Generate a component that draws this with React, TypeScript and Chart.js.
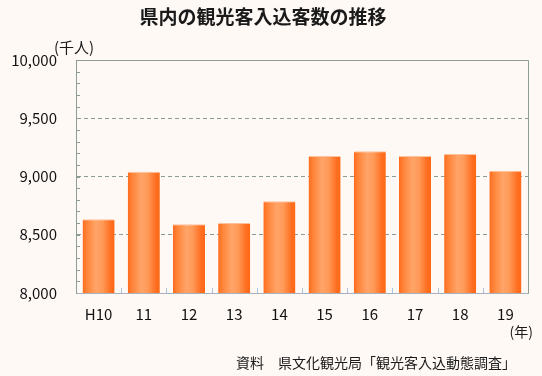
import React, { useEffect, useRef } from "react";
import { Chart, registerables } from "chart.js";

Chart.register(...registerables);

const title = "県内の観光客入込客数の推移";
const categories = ["H10", "11", "12", "13", "14", "15", "16", "17", "18", "19"];
const visitors = [8632, 9040, 8590, 8600, 8787, 9176, 9216, 9176, 9193, 9050];
const yMin = 8000;
const yMax = 10000;
const yStep = 500;
const yMinorStep = 100;
const unitLabel = "(千人)";
const yearLabel = "(年)";
const sourceLabel = "資料　県文化観光局「観光客入込動態調査」";

const FONT = "'Noto Sans CJK JP', 'Noto Sans', sans-serif";

export default function App() {
  const ref = useRef<HTMLCanvasElement | null>(null);

  useEffect(() => {
    const canvas = ref.current;
    if (!canvas) return;

    const barGradient = (ctx: any) => {
      const chart = ctx.chart;
      const xs = chart.scales?.x;
      if (!xs || xs.width === undefined || !isFinite(xs.left)) return "#ff8a40";
      const cw = xs.width / categories.length;
      const c = xs.getPixelForValue(ctx.dataIndex);
      const half = (cw * 0.71) / 2;
      const g = chart.ctx.createLinearGradient(c - half, 0, c + half, 0);
      g.addColorStop(0, "#ff6a1c");
      g.addColorStop(0.12, "#ff8236");
      g.addColorStop(0.42, "#ffa468");
      g.addColorStop(0.62, "#ff9a58");
      g.addColorStop(0.88, "#ff6e20");
      g.addColorStop(1, "#ff6814");
      return g;
    };

    const decor = {
      id: "decor",
      beforeDatasetsDraw(chart: any) {
        const { ctx, chartArea } = chart;
        const ys = chart.scales.y;
        const xs = chart.scales.x;
        ctx.save();
        ctx.lineWidth = 1;
        ctx.strokeStyle = "#8d9c96";
        ctx.beginPath();
        ctx.moveTo(chartArea.left, chartArea.top + 0.5);
        ctx.lineTo(chartArea.right + 0.5, chartArea.top + 0.5);
        ctx.lineTo(chartArea.right + 0.5, chartArea.bottom);
        ctx.stroke();
        ctx.beginPath();
        for (let v = yMin + yMinorStep; v < yMax; v += yMinorStep) {
          const y = Math.round(ys.getPixelForValue(v)) + 0.5;
          ctx.moveTo(chartArea.left, y);
          ctx.lineTo(chartArea.left + 4, y);
        }
        ctx.stroke();
        ctx.strokeStyle = "#a8c4e0";
        ctx.beginPath();
        for (let i = 1; i < categories.length; i++) {
          const x = Math.round((xs.getPixelForValue(i - 1) + xs.getPixelForValue(i)) / 2) + 0.5;
          ctx.moveTo(x, chartArea.bottom);
          ctx.lineTo(x, chartArea.bottom - 5);
        }
        ctx.stroke();
        ctx.restore();
      },
      afterDraw(chart: any) {
        const { ctx } = chart;
        ctx.save();
        ctx.fillStyle = "#1a1a1a";
        ctx.textBaseline = "middle";
        ctx.font = `bold 19px ${FONT}`;
        ctx.textAlign = "center";
        ctx.fillText(title, 263, 17);
        ctx.font = `15px ${FONT}`;
        ctx.textAlign = "left";
        ctx.fillText(unitLabel, 54, 47);
        ctx.font = `14px ${FONT}`;
        ctx.textAlign = "right";
        ctx.fillText(yearLabel, 533, 332);
        ctx.fillText(sourceLabel, 516, 363);
        ctx.restore();
      },
    };

    const chart = new Chart(canvas, {
      type: "bar",
      data: {
        labels: categories,
        datasets: [
          {
            data: visitors,
            backgroundColor: barGradient as any,
            borderColor: "#ffc29a",
            borderWidth: { top: 1, left: 0, right: 0, bottom: 0 } as any,
            borderSkipped: "bottom",
            categoryPercentage: 1,
            barPercentage: 0.71,
          },
        ],
      },
      plugins: [
        decor,
        {
          id: "bg",
          beforeDraw(c: any) {
            const ctx = c.ctx;
            ctx.save();
            ctx.fillStyle = "#fff9f6";
            ctx.fillRect(0, 0, c.width, c.height);
            ctx.restore();
          },
        },
      ],
      options: {
        animation: false,
        responsive: false,
        devicePixelRatio: 1,
        layout: { padding: { left: 0, right: 14, top: 60, bottom: 53 } },
        plugins: {
          legend: { display: false },
          title: { display: false },
          tooltip: { enabled: false },
        },
        scales: {
          x: {
            afterFit: (s: any) => {
              s.height = 30;
            },
            grid: { display: false, drawTicks: false },
            border: { display: true, color: "#a9b2bc", width: 1 },
            ticks: {
              color: "#111",
              padding: 12,
              font: { family: FONT, size: 15 },
              maxRotation: 0,
            },
          },
          y: {
            min: yMin,
            max: yMax,
            afterFit: (s: any) => {
              s.width = 76;
            },
            ticks: {
              stepSize: yStep,
              padding: 19,
              color: "#111",
              font: { family: FONT, size: 15 },
              callback: (v: any) => Number(v).toLocaleString("en-US"),
            },
            grid: {
              drawTicks: false,
              color: (ctx: any) =>
                ctx.tick && (ctx.tick.value === yMin || ctx.tick.value === yMax)
                  ? "rgba(0,0,0,0)"
                  : "#8a9c9a",
              lineWidth: 1,
            },
            border: { display: true, color: "#8d9c96", width: 1, dash: [4, 3] },
          },
        },
      },
    });

    return () => chart.destroy();
  }, []);

  return (
    <div style={{ position: "fixed", left: 0, top: 0, width: 542, height: 376 }}>
      <canvas ref={ref} width={542} height={376} />
    </div>
  );
}
